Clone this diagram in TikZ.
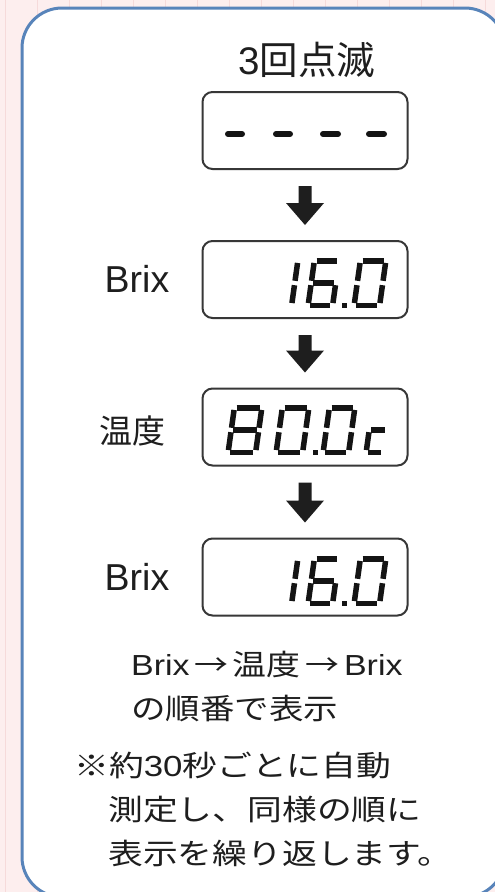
\documentclass[tikz,border=0pt]{standalone}
\usepackage{graphicx}
\usepackage{fontspec}
\setmainfont{Liberation Sans}
\newfontfamily\jp{Noto Sans CJK JP}
\definecolor{pinkbg}{RGB}{253,238,238}
\definecolor{gridln}{RGB}{246,218,218}
\definecolor{framebl}{RGB}{88,132,186}
\definecolor{ink}{RGB}{30,30,30}
\definecolor{boxln}{RGB}{55,55,55}
\definecolor{lcdcol}{RGB}{20,20,20}
\tikzset{
  lcdbox/.style={draw=boxln, line width=2pt, rounded corners=10pt, minimum width=205pt, minimum height=77pt, inner sep=0pt, fill=white},
  seg/.style={draw=lcdcol, line width=5.5pt},
  dashseg/.style={draw=lcdcol, line width=6pt, line cap=round},
  lbl/.style={text=ink, inner sep=0pt},
  txt/.style={text=ink, inner sep=0pt, anchor=west, font=\fontsize{29}{34}\selectfont},
  frame/.style={draw=framebl, line width=3pt, fill=white, rounded corners=40pt}
}
\def\sgL{2.75}\def\sgT{-47.25}\def\sgM{-25}\def\sgB{-2.75}\def\sgg{2.2}
\newcommand{\segA}{\draw[seg] (\sgL+\sgg,\sgT) -- (\sgR-\sgg,\sgT);}
\newcommand{\segB}{\draw[seg] (\sgR,\sgT+\sgg) -- (\sgR,\sgM-\sgg);}
\newcommand{\segC}{\draw[seg] (\sgR,\sgM+\sgg) -- (\sgR,\sgB-\sgg);}
\newcommand{\segD}{\draw[seg] (\sgL+\sgg,\sgB) -- (\sgR-\sgg,\sgB);}
\newcommand{\segE}{\draw[seg] (\sgL,\sgM+\sgg) -- (\sgL,\sgB-\sgg);}
\newcommand{\segF}{\draw[seg] (\sgL,\sgT+\sgg) -- (\sgL,\sgM-\sgg);}
\newcommand{\segG}{\draw[seg] (\sgL+\sgg,\sgM) -- (\sgR-\sgg,\sgM);}
\newcommand{\lcd}[4]{\begin{scope}[shift={(#1,#2)},xslant=0.14]\def\sgR{#3-2.75}\foreach \s in {#4}{\s}\end{scope}}
\newcommand{\blockarrow}[2]{%
 \fill[ink] ([xshift=-6.5pt,yshift=-16pt]#1.south) -- ([xshift=-6.5pt,yshift=37pt]#2.north) -- ([xshift=-19pt,yshift=37pt]#2.north) -- ([yshift=15pt]#2.north) -- ([xshift=19pt,yshift=37pt]#2.north) -- ([xshift=6.5pt,yshift=37pt]#2.north) -- ([xshift=6.5pt,yshift=-16pt]#1.south) -- cycle;}
\begin{document}
\begin{tikzpicture}[x=1pt,y=-1pt]
\useasboundingbox (0,0) rectangle (495,892);
\clip (0,0) rectangle (495,892);
\fill[pinkbg] (0,0) rectangle (495,892);
\foreach \x in {5,37,...,485} \draw[gridln, line width=0.8pt] (\x,0) -- (\x,892);
\draw[frame] (22,8) rectangle (505,897);

% title
\node[lbl, font=\fontsize{38.5}{42}\selectfont] (t1) at (307,60) {3{\jp 回点滅}};

% boxes
\node[lcdbox] (b1) at (305,130.5) {};
\node[lcdbox] (b2) at (305,279.5) {};
\node[lcdbox] (b3) at (305,427) {};
\node[lcdbox] (b4) at (305,577) {};

% labels
\node[lbl, font=\fontsize{37.5}{40}\selectfont] (l2) at (137,279) {Brix};
\node[lbl, font=\fontsize{33}{36}\selectfont] (l3) at (132,431) {\jp 温度};
\node[lbl, font=\fontsize{37.5}{40}\selectfont] (l4) at (137,577) {Brix};

% arrows
\blockarrow{b1}{b2}
\blockarrow{b2}{b3}
\blockarrow{b3}{b4}

% box 1: dashes
\draw[dashseg] (228,134) -- (242,134);
\draw[dashseg] (276,134) -- (290,134);
\draw[dashseg] (323,134) -- (338,134);
\draw[dashseg] (369,134) -- (384,134);

% box 2: 16.0
\lcd{265}{308}{29}{\segB,\segC}
\lcd{305}{308}{30}{\segA,\segC,\segD,\segE,\segF,\segG}
\fill[lcdcol] (342,302.5) rectangle (347,308);
\lcd{351}{308}{31}{\segA,\segB,\segC,\segD,\segE,\segF}

% box 3: 80.0c
\lcd{225}{455}{33}{\segA,\segB,\segC,\segD,\segE,\segF,\segG}
\lcd{273}{455}{32}{\segA,\segB,\segC,\segD,\segE,\segF}
\fill[lcdcol] (313,449.5) rectangle (318,455);
\lcd{320}{455}{31}{\segA,\segB,\segC,\segD,\segE,\segF}
\lcd{363}{455}{23}{\segD,\segE,\segG}

% box 4: 16.0
\lcd{265}{606}{29}{\segB,\segC}
\lcd{305}{606}{30}{\segA,\segC,\segD,\segE,\segF,\segG}
\fill[lcdcol] (342,600.5) rectangle (347,606);
\lcd{351}{606}{31}{\segA,\segB,\segC,\segD,\segE,\segF}

% notes
\node[txt] (n1) at (131,664) {\scalebox{1.17}[1]{Brix\kern4pt{\jp →}\kern4pt{\jp 温度}\kern4pt{\jp →}\kern4pt Brix}};
\node[txt] (n2) at (131,708) {\scalebox{1.19}[1]{\jp の順番で表示}};
\node[txt] (n3) at (74,765) {\scalebox{1.2}[1]{{\jp ※約}30{\jp 秒ごとに自動}}};
\node[txt] (n4) at (108,810) {\scalebox{1.2}[1]{\jp 測定し、同様の順に}};
\node[txt] (n5) at (108,853) {\scalebox{1.2}[1]{\jp 表示を繰り返します。}};
\end{tikzpicture}
\end{document}
